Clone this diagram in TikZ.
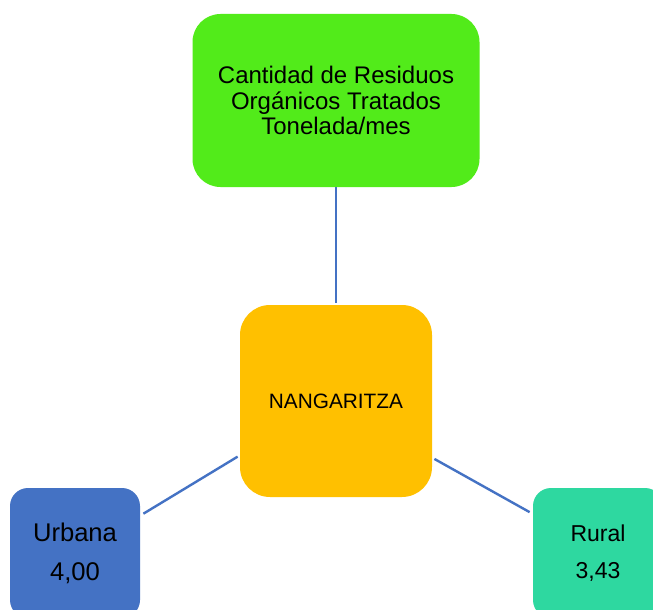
\documentclass[tikz,border=0pt]{standalone}
\usepackage{fontspec}
\setmainfont{Liberation Sans}
\usetikzlibrary{positioning,calc}
\definecolor{boxgreen}{HTML}{52EB1A}
\definecolor{boxorange}{HTML}{FFC000}
\definecolor{boxblue}{HTML}{4472C4}
\definecolor{boxteal}{HTML}{2ED8A0}
\begin{document}
\begin{tikzpicture}[x=0.5pt, y=-0.5pt,
  box/.style={rectangle, align=center, inner sep=0pt},
  link/.style={draw=boxblue, line width=1.2pt}]
  %% ── Canvas ─────────────────────────────────────────────
  \useasboundingbox (0,0) rectangle (653,610);
  \clip (0,0) rectangle (653,610);
  \fill[white] (0,0) rectangle (653,610);

  %% ── Top: quantity box ──────────────────────────────────
  \node[box, fill=boxgreen, rounded corners=14pt,
        minimum width=143.5pt, minimum height=86.5pt,
        font=\fontsize{12}{12.8}\selectfont] (qty) at (336,100.5)
    {Cantidad de Residuos\\Orgánicos Tratados\\Tonelada/mes};

  %% ── Centre: canton ─────────────────────────────────────
  \node[box, fill=boxorange, rounded corners=15pt,
        minimum width=96pt, minimum height=96pt,
        font=\fontsize{10.4}{12}\selectfont] (nang) at (336,401)
    {NANGARITZA};

  %% ── Bottom: urban / rural ──────────────────────────────
  \node[box, fill=boxblue, rounded corners=9pt,
        minimum width=65pt, minimum height=65pt,
        font=\fontsize{12.8}{19.5}\selectfont] (urb) at (75,553)
    {Urbana\\4,00};
  \node[box, fill=boxteal, rounded corners=9pt,
        minimum width=65pt, minimum height=65pt,
        font=\fontsize{11.5}{18.5}\selectfont] (rur) at (598,553)
    {Rural\\3,43};

  %% ── Connectors ─────────────────────────────────────────
  \draw[link] (qty.south) -- ($(nang.north)+(0,-2)$);
  \draw[link] ($(nang.210.7)+(-2,0)$) -- ($(urb.31.6)+(3,0)$);
  \draw[link] ($(nang.329.3)+(2,0)$) -- ($(rur.148.4)+(-3,0)$);
\end{tikzpicture}
\end{document}
